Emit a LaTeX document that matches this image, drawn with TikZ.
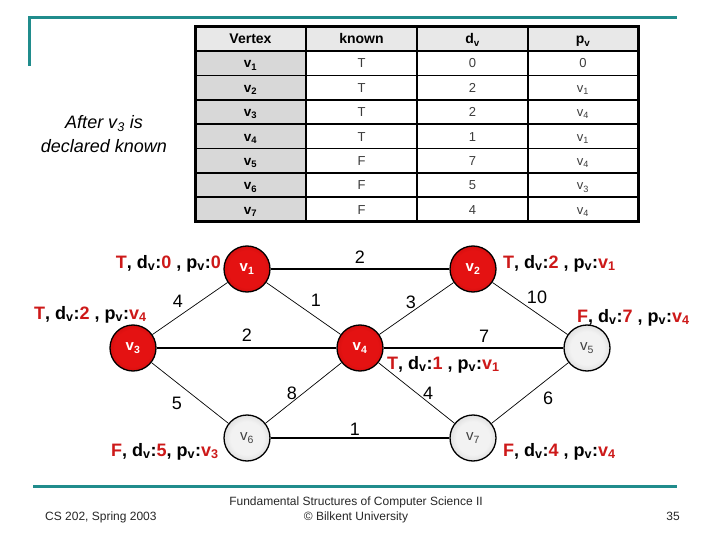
\documentclass[tikz,border=0pt]{standalone}
\usepackage{fontspec}
\setmainfont{Liberation Sans}
\definecolor{teal1}{RGB}{32,140,140}
\definecolor{lblred}{RGB}{205,25,25}
\definecolor{redc}{RGB}{228,18,18}
\definecolor{rede}{RGB}{150,0,0}
\definecolor{grayc}{RGB}{242,242,242}
\definecolor{graye}{RGB}{165,165,165}
\definecolor{hdrgray}{RGB}{232,232,232}
\definecolor{colgray}{RGB}{216,216,216}
\definecolor{celltext}{RGB}{60,60,60}
\pgfdeclareradialshading{redball}{\pgfpoint{0bp}{0bp}}{color(0bp)=(redc); color(20bp)=(redc); color(50bp)=(rede)}
\pgfdeclareradialshading{grayball}{\pgfpoint{0bp}{0bp}}{color(0bp)=(grayc); color(18bp)=(grayc); color(50bp)=(graye)}
\newcommand{\rd}[1]{\textcolor{lblred}{#1}}
\newcommand{\vsb}{\textsubscript{v}}
\begin{document}
\begin{tikzpicture}[x=1pt,y=-1pt,
  rednode/.style={circle, draw=black, line width=1.3pt, minimum size=46pt, inner sep=0pt, shading=redball, text=white, font=\fontsize{15}{15}\selectfont\bfseries},
  graynode/.style={circle, draw=black, line width=1.3pt, minimum size=46pt, inner sep=0pt, shading=grayball, text=black!75, font=\fontsize{15}{15}\selectfont},
  thinedge/.style={line width=0.7pt},
  thickedge/.style={line width=1.3pt},
  wt/.style={inner sep=0pt, font=\fontsize{18}{18}\selectfont},
  lbl/.style={inner sep=0pt, font=\fontsize{18}{18}\selectfont\bfseries},
  hdr/.style={inner sep=0pt, anchor=base, font=\fontsize{14}{14}\selectfont\bfseries},
  cellb/.style={inner sep=0pt, anchor=base, font=\fontsize{13.5}{13.5}\selectfont\bfseries},
  celln/.style={inner sep=0pt, anchor=base, text=celltext, font=\fontsize{13}{13}\selectfont},
  tealline/.style={draw=teal1, line width=3pt},
  foot/.style={inner sep=0pt, text=black!85, font=\fontsize{12}{15}\selectfont}
]
\useasboundingbox (0,0) rectangle (720,540);
% frame lines
\draw[tealline] (29,66) -- (29,18) -- (677,18);
\draw[tealline] (33,486) -- (677,486);
% table
\fill[hdrgray] (195,27) rectangle (638,51);
\fill[colgray] (195,51) rectangle (306,222);
\foreach \i in {1,...,7} {
  \draw[line width=1.6pt] (195,{51+24.375*\i}) -- (638,{51+24.375*\i});
}
\draw[line width=1.6pt] (195,51) -- (638,51);
\foreach \x in {306,417,528} {
  \draw[line width=1.6pt] (\x,27) -- (\x,222);
}
\draw[line width=3pt] (195,27) rectangle (638,222);
\node[hdr] (hV) at (250.5,44) {Vertex};
\node[hdr] (hK) at (361.5,44) {known};
\node[hdr] (hD) at (472.5,44) {d\textsubscript{v}};
\node[hdr] (hP) at (583,44) {p\textsubscript{v}};
\foreach \k/\d/\p [count=\i] in {T/0/0, T/2/v\textsubscript{1}, T/2/v\textsubscript{4}, T/1/v\textsubscript{1}, F/7/v\textsubscript{4}, F/5/v\textsubscript{3}, F/4/v\textsubscript{4}} {
  \node[cellb] (tv\i) at (250.5,{51+24.375*(\i-0.5)+4.8}) {v\textsubscript{\i}};
  \node[celln] (tk\i) at (361.5,{51+24.375*(\i-0.5)+4.8}) {\k};
  \node[celln] (td\i) at (472.5,{51+24.375*(\i-0.5)+4.8}) {\d};
  \node[celln] (tp\i) at (583,{51+24.375*(\i-0.5)+4.8}) {\p};
}
% caption
\node[inner sep=0pt, align=center, font=\fontsize{18}{24}\selectfont\itshape] (cap) at (104,134) {After v\textsubscript{3} is\\declared known};
% graph nodes
\node[rednode] (v1) at (247,269) {v\textsubscript{1}};
\node[rednode] (v2) at (473,269) {v\textsubscript{2}};
\node[rednode] (v3) at (133,348) {v\textsubscript{3}};
\node[rednode] (v4) at (360,348) {v\textsubscript{4}};
\node[graynode] (v5) at (587,348) {v\textsubscript{5}};
\node[graynode] (v6) at (247,438) {v\textsubscript{6}};
\node[graynode] (v7) at (473,438) {v\textsubscript{7}};
% edges
\draw[thickedge] (v1) -- (v2);
\draw[thinedge] (v1) -- (v3);
\draw[thinedge] (v1) -- (v4);
\draw[thinedge] (v2) -- (v4);
\draw[thinedge] (v2) -- (v5);
\draw[thickedge] (v3) -- (v4);
\draw[thickedge] (v4) -- (v5);
\draw[thinedge] (v3) -- (v6);
\draw[thinedge] (v4) -- (v6);
\draw[thinedge] (v4) -- (v7);
\draw[thinedge] (v5) -- (v7);
\draw[thickedge] (v6) -- (v7);
% weights
\node[wt] (w12) at (360,257) {2};
\node[wt] (w13) at (178,301) {4};
\node[wt] (w14) at (316,300) {1};
\node[wt] (w24) at (411,302) {3};
\node[wt] (w25) at (537,297) {10};
\node[wt] (w34) at (247,335) {2};
\node[wt] (w45) at (484,336) {7};
\node[wt] (w36) at (177,403) {5};
\node[wt] (w46) at (292,393) {8};
\node[wt] (w67) at (355,429) {1};
\node[wt] (w47) at (428,393) {4};
\node[wt] (w57) at (548,398) {6};
% status labels
\node[lbl, anchor=base east] (l1) at (221,268) {\rd{T}, d\vsb:\rd{0} , p\vsb:\rd{0}};
\node[lbl, anchor=base west] (l2) at (503,268) {\rd{T}, d\vsb:\rd{2} , p\vsb:\rd{v\textsubscript{1}}};
\node[lbl, anchor=base west] (l3) at (34,319) {\rd{T}, d\vsb:\rd{2} , p\vsb:\rd{v\textsubscript{4}}};
\node[lbl, anchor=base west] (l4) at (387,369) {\rd{T}, d\vsb:\rd{1} , p\vsb:\rd{v\textsubscript{1}}};
\node[lbl, anchor=base west] (l5) at (577,322) {\rd{F}, d\vsb:\rd{7} , p\vsb:\rd{v\textsubscript{4}}};
\node[lbl, anchor=base west] (l6) at (111,456) {\rd{F}, d\vsb:\rd{5}, p\vsb:\rd{v\textsubscript{3}}};
\node[lbl, anchor=base west] (l7) at (503,456) {\rd{F}, d\vsb:\rd{4} , p\vsb:\rd{v\textsubscript{4}}};
% footer
\node[foot, anchor=base west] (f1) at (45,520) {CS 202, Spring 2003};
\node[foot, align=center, anchor=center] (f2) at (356,510) {Fundamental Structures of Computer Science II\\\textcopyright{} Bilkent University};
\node[foot, anchor=base east] (f3) at (680,520) {35};
\end{tikzpicture}
\end{document}
